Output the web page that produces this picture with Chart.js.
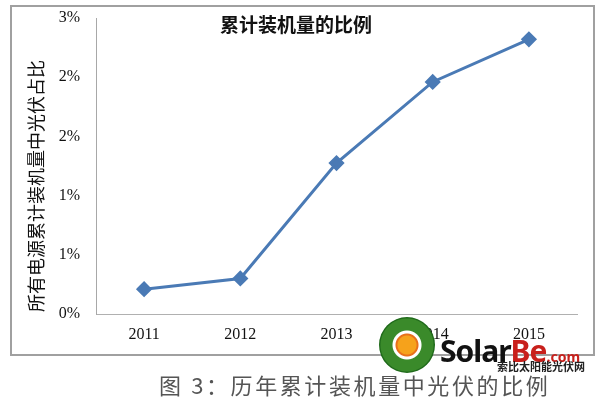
<!DOCTYPE html>
<html>
<head>
<meta charset="utf-8">
<script src="https://cdn.jsdelivr.net/npm/chart.js@4/dist/chart.umd.min.js"></script>
<style>
  html, body { margin: 0; padding: 0; background: #fff; }
  #wrap { position: relative; width: 600px; height: 399px; overflow: hidden; background: #fff; }
  #box { position: absolute; left: 10px; top: 5px; width: 581px; height: 347px; border: 2px solid #a0a0a0; }
  #c { position: absolute; left: 0; top: 0; }
  #title { position: absolute; left: 196px; width: 200px; top: 10px; text-align: center;
           font: bold 19px "Noto Sans CJK SC", sans-serif; color: #111; }
  #caption { position: absolute; left: 159px; top: 368px; white-space: nowrap; letter-spacing: 2.6px;
             font: 22px "Noto Sans CJK SC", sans-serif; color: #555; }
  /* watermark */
  #logo { position: absolute; left: 379px; top: 317px; width: 56px; height: 56px; border-radius: 50%;
          background: radial-gradient(circle, #f6a21b 0 9px, #e8701a 10px 11px, #fff 12px 14px, #3a8a2a 15px 26px, #1f6a1a 27px 28px, transparent 29px); }
  #brand { position: absolute; left: 440px; top: 330px; font: bold 30px "Noto Sans", sans-serif; color: #111; letter-spacing: -1px; }
  #brand span { color: #c8201c; }
  #brand small { font-size: 14px; color: #c8201c; letter-spacing: 0; }
  #brand2 { position: absolute; left: 497px; top: 358px; font: bold 11px "Noto Sans CJK SC", sans-serif; color: #222; }
</style>
</head>
<body>
<div id="wrap">
  <div id="box"></div>
  <canvas id="c" width="600" height="399"></canvas>
  <div id="title">累计装机量的比例</div>
  <div id="caption">图 3：历年累计装机量中光伏的比例</div>
  <div id="logo"></div>
  <div id="brand">Solar<span>Be</span><small>.com</small></div>
  <div id="brand2">索比太阳能光伏网</div>
</div>
<script>
// ── Data ────────────────────────────────────────────────────────────────────
const years  = ['2011', '2012', '2013', '2014', '2015'];
const shares = [0.21, 0.30, 1.275, 1.96, 2.32];   // % of all installed capacity
const yTitle = '所有电源累计装机量中光伏占比';

const BLUE = '#4a7ab5';

// y-axis title, drawn a little below the plot's middle like the original
const yTitlePlugin = {
  id: 'yTitle',
  afterDraw(chart) {
    const { ctx, chartArea } = chart;
    ctx.save();
    ctx.translate(36, (chartArea.top + chartArea.bottom) / 2 + 20);
    ctx.rotate(-Math.PI / 2);
    ctx.font = '18px "Noto Sans CJK SC"';
    ctx.fillStyle = '#111';
    ctx.textAlign = 'center';
    ctx.textBaseline = 'middle';
    ctx.fillText(yTitle, 0, 0);
    ctx.restore();
  }
};

new Chart(document.getElementById('c'), {
  type: 'line',
  data: {
    labels: years,
    datasets: [{
      data: shares, borderColor: BLUE, backgroundColor: BLUE, borderWidth: 3,
      pointStyle: 'rectRot', pointRadius: 6, pointHoverRadius: 6, tension: 0,
    }]
  },
  options: {
    responsive: false, animation: false,
    layout: { padding: { left: 25, top: 18, right: 23, bottom: 55 } },
    plugins: { legend: { display: false }, tooltip: { enabled: false } },
    scales: {
      x: {
        offset: true,
        grid: { display: true, drawOnChartArea: false, drawTicks: false, color: 'transparent' },
        border: { display: true, color: '#b0b0b0', width: 1 },
        ticks: { padding: 11, color: '#111', font: { family: 'Liberation Serif', size: 16 } },
        afterFit: s => { s.height = 30; }
      },
      y: {
        min: 0, max: 2.5,
        grid: { display: true, drawOnChartArea: false, drawTicks: false, color: 'transparent' },
        border: { display: true, color: '#a8a8a8', width: 1 },
        ticks: { stepSize: 0.5, padding: 16, color: '#111',
                 font: { family: 'Liberation Serif', size: 16 },
                 callback: v => Math.round(v) + '%' },
        afterFit: s => { s.width = 71; s.paddingTop = 0; s.paddingBottom = 0; }
      }
    }
  },
  plugins: [yTitlePlugin]
});
</script>
</body>
</html>
